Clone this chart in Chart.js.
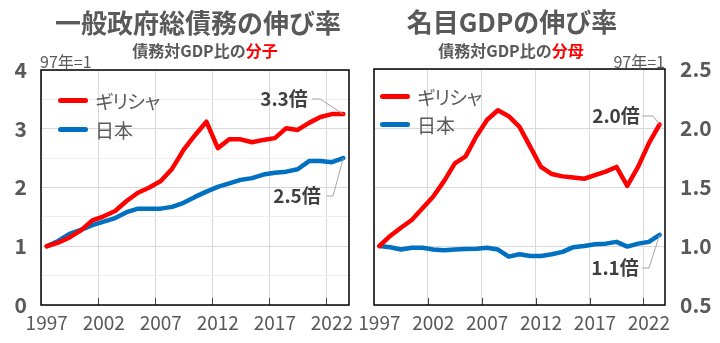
<!DOCTYPE html>
<html>
<head>
<meta charset="utf-8">
<script src="https://cdn.jsdelivr.net/npm/chart.js@4"></script>
<style>
  body { margin: 0; width: 720px; height: 343px; position: relative; background: #fff; overflow: hidden;
         font-family: 'Noto Sans CJK JP', sans-serif; color: #595959; }
  .box { position: absolute; top: 0; width: 360px; height: 343px; }
  .t { position: absolute; white-space: nowrap; transform: translate(-50%, -50%); font-weight: bold; }
  .red { color: #ff0000; }
  .unit { position: absolute; font-size: 16px; white-space: nowrap; transform: translateY(-50%); }
  .lg { position: absolute; font-size: 19px; white-space: nowrap; transform: translateY(-50%); }
  .kata { letter-spacing: -3px; }
  .sw { position: absolute; width: 30px; height: 5px; border-radius: 3px; }
</style>
</head>
<body>
<div class="box" style="left:0"><canvas id="debtChart"></canvas></div>
<div class="box" style="left:360px"><canvas id="gdpChart"></canvas></div>

<div class="t" style="left:198px;top:21px;font-size:26px">一般政府総債務の伸び率</div>
<div class="t" style="left:205px;top:50px;font-size:16px">債務対GDP比の<span class="red">分子</span></div>
<div class="unit" style="left:40px;top:61px">97年=1</div>

<div class="t" style="left:512px;top:20px;font-size:26px">名目GDPの伸び率</div>
<div class="t" style="left:511px;top:50px;font-size:16px">債務対GDP比の<span class="red">分母</span></div>
<div class="unit" style="right:55px;top:61px">97年=1</div>

<!-- legends -->
<div class="sw" style="left:58px;top:98px;background:#ff0000"></div>
<div class="lg kata" style="left:95px;top:100px">ギリシャ</div>
<div class="sw" style="left:58px;top:127px;background:#0070c0"></div>
<div class="lg" style="left:95px;top:129px">日本</div>

<div class="sw" style="left:380px;top:94px;background:#ff0000"></div>
<div class="lg kata" style="left:417px;top:96px">ギリシャ</div>
<div class="sw" style="left:380px;top:122px;background:#0070c0"></div>
<div class="lg" style="left:417px;top:124px">日本</div>

<script>
const years = ['1997','1998','1999','2000','2001','2002','2003','2004','2005','2006','2007','2008','2009',
  '2010','2011','2012','2013','2014','2015','2016','2017','2018','2019','2020','2021','2022','2023'];

// 一般政府総債務 (97年=1)
const debtGreece = [1.00,1.06,1.15,1.27,1.44,1.51,1.60,1.77,1.91,2.00,2.11,2.32,2.64,2.89,3.12,2.67,2.82,2.82,2.77,2.81,2.84,3.01,2.98,3.10,3.20,3.25,3.25];
const debtJapan  = [1.00,1.09,1.21,1.28,1.36,1.42,1.48,1.58,1.64,1.64,1.64,1.67,1.74,1.84,1.93,2.01,2.07,2.13,2.16,2.22,2.25,2.27,2.31,2.45,2.45,2.43,2.50];

// 名目GDP (97年=1)
const gdpGreece = [1.00,1.085,1.155,1.22,1.32,1.42,1.55,1.70,1.76,1.93,2.07,2.15,2.10,2.01,1.84,1.67,1.61,1.59,1.58,1.57,1.60,1.63,1.67,1.51,1.67,1.87,2.03];
const gdpJapan  = [1.00,0.99,0.97,0.985,0.985,0.97,0.965,0.97,0.975,0.977,0.985,0.97,0.91,0.93,0.915,0.915,0.93,0.95,0.99,1.00,1.015,1.02,1.035,0.995,1.02,1.035,1.095];

const debtTicks = [0, 1, 2, 3, 4];
const gdpTicks = ['0.5', '1.0', '1.5', '2.0', '2.5'];

const FONT = "'Noto Sans CJK JP', sans-serif";
const GREY = '#595959';

// frame, inner tick marks and end-of-line labels
const extras = {
  id: 'extras',
  afterDraw(chart, args, opts) {
    const { ctx, chartArea: a } = chart;
    const xs = chart.scales.x;
    ctx.save();
    // tick marks inside the plot
    const half = (xs.getPixelForTick(1) - xs.getPixelForTick(0)) / 2;
    ctx.strokeStyle = '#404040';
    ctx.lineWidth = 1;
    for (let i = 5; i < years.length; i += 5) {
      const x = Math.round(xs.getPixelForTick(i) - half) + 0.5;
      ctx.beginPath(); ctx.moveTo(x, a.bottom); ctx.lineTo(x, a.bottom - 7); ctx.stroke();
    }
    // frame
    ctx.strokeStyle = '#000';
    ctx.lineWidth = 1.5;
    ctx.strokeRect(a.left, a.top, a.right - a.left, a.bottom - a.top);
    // notes
    ctx.font = 'bold 19px ' + FONT;
    ctx.textAlign = 'center';
    ctx.textBaseline = 'middle';
    (opts.notes || []).forEach(n => {
      const pts = chart.getDatasetMeta(n.ds).data;
      const p = pts[pts.length - 1];
      ctx.fillStyle = '#404040';
      ctx.fillText(n.text, n.x, n.y);
      ctx.strokeStyle = '#a6a6a6';
      ctx.lineWidth = 1;
      ctx.beginPath();
      ctx.moveTo(n.start, n.y);
      ctx.lineTo(n.elbow, n.y);
      ctx.lineTo(p.x, p.y);
      ctx.stroke();
    });
    ctx.restore();
  }
};

function makeChart(id, red, blue, yOpts, pad, notes) {
  return new Chart(document.getElementById(id), {
    type: 'line',
    data: {
      labels: years,
      datasets: [
        { label: 'ギリシャ', data: red, borderColor: '#ff0000', borderWidth: 4.5, pointRadius: 0,
          borderCapStyle: 'round', borderJoinStyle: 'round' },
        { label: '日本', data: blue, borderColor: '#0070c0', borderWidth: 4.5, pointRadius: 0,
          borderCapStyle: 'round', borderJoinStyle: 'round' }
      ]
    },
    options: {
      responsive: true,
      maintainAspectRatio: false,
      animation: false,
      layout: { padding: pad },
      plugins: {
        legend: { display: false },
        tooltip: { enabled: false },
        extras: { notes: notes }
      },
      scales: {
        x: {
          offset: true,
          grid: {
            offset: true,
            drawTicks: false,
            color: c => (c.index % 5 === 0 ? '#d9d9d9' : 'rgba(0,0,0,0)')
          },
          border: { display: false },
          ticks: {
            autoSkip: false, maxRotation: 0, padding: 6, color: GREY,
            font: { family: FONT, size: 19 },
            callback: (v, i) => (i % 5 === 0 ? years[i] : '')
          },
          afterFit: s => { s.height = 38; s.paddingLeft = 0; s.paddingRight = 0; }
        },
        y: yOpts
      }
    },
    plugins: [extras]
  });
}

makeChart('debtChart', debtGreece, debtJapan, {
  min: 0, max: 4,
  ticks: {
    stepSize: 0.5, padding: 14, color: GREY,
    font: { family: FONT, size: 21, weight: 'bold' },
    callback: v => (debtTicks.includes(v) ? String(v) : '')
  },
  grid: { drawTicks: false, color: c => (Number.isInteger(c.tick && c.tick.value) ? '#d9d9d9' : '#eeeeee') },
  border: { display: false },
  afterFit: s => { s.width = 41; }
}, { top: 70, right: 11, left: 0, bottom: 0 }, [
  { ds: 0, text: '3.3倍', x: 284, y: 99, start: 312, elbow: 320 },
  { ds: 1, text: '2.5倍', x: 297, y: 196, start: 327, elbow: 333 }
]);

makeChart('gdpChart', gdpGreece, gdpJapan, {
  position: 'right',
  min: 0.5, max: 2.5,
  ticks: {
    stepSize: 0.5, padding: 15, color: GREY,
    font: { family: FONT, size: 21, weight: 'bold' },
    callback: v => gdpTicks.find(t => Number(t) === v) || ''
  },
  grid: { drawTicks: false, color: '#d9d9d9' },
  border: { display: false },
  afterFit: s => { s.width = 55; }
}, { top: 69, right: 0, left: 14, bottom: 0 }, [
  { ds: 0, text: '2.0倍', x: 256, y: 116, start: 282, elbow: 293 },
  { ds: 1, text: '1.1倍', x: 255, y: 268, start: 282, elbow: 289 }
]);
</script>
</body>
</html>
